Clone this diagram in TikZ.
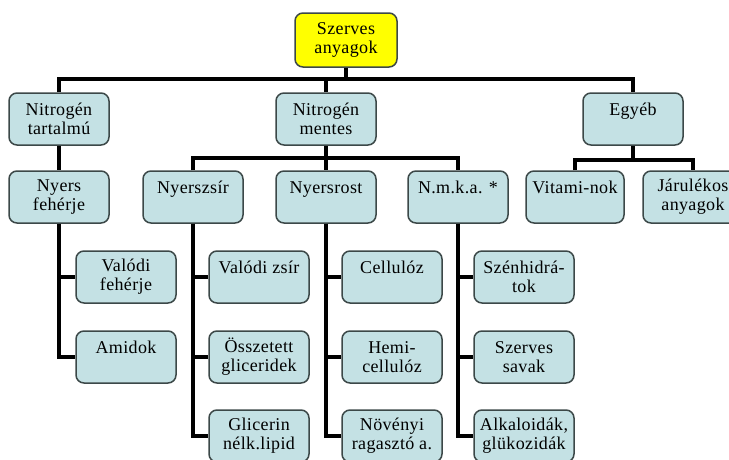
\documentclass[tikz,border=0pt]{standalone}
\usepackage{fontspec}
\setmainfont{Liberation Serif}[LetterSpace=2]
\usetikzlibrary{calc}
\definecolor{dobozkek}{RGB}{196,225,228}
\definecolor{keret}{RGB}{60,72,72}
\definecolor{sarga}{RGB}{255,255,0}
\newcommand{\egysor}[1]{#1\\\mbox{}}

\begin{document}
\begin{tikzpicture}[x=1pt, y=1pt,
    doboz/.style={draw=keret, line width=1.5pt, fill=dobozkek, rounded corners=8pt,
      minimum width=100pt, minimum height=52pt, align=center, inner sep=1pt,
      font=\fontsize{18}{19}\selectfont},
    gyoker/.style={doboz, fill=sarga, minimum width=102pt, minimum height=54pt},
    vonal/.style={line width=3.6pt, line join=miter}]
    \useasboundingbox (0,0) rectangle (729,-459);
    \clip (0,0) rectangle (729,-459);
    \node[gyoker] (sz) at (346,-40) {Szerves\\anyagok};
    % first level
    \node[doboz] (nt) at (59,-119) {Nitrogén\\tartalmú};
    \node[doboz] (nm) at (326,-119) {Nitrogén\\mentes};
    \node[doboz] (egy) at (633,-119) {\egysor{Egyéb}};
    % second level
    \node[doboz] (nyf) at (59,-197) {Nyers\\fehérje};
    \node[doboz] (nyzs) at (193,-197) {\egysor{Nyerszsír}};
    \node[doboz] (nyr) at (326,-197) {\egysor{Nyersrost}};
    \node[doboz] (nmka) at (458,-197) {\egysor{N.m.k.a. *}};
    \node[doboz, minimum width=98pt] (vit) at (575,-197) {\egysor{Vitami-nok}};
    \node[doboz] (jar) at (693,-197) {Járulékos\\anyagok};
    % third level
    \node[doboz] (vf) at (126,-277) {Valódi\\fehérje};
    \node[doboz] (am) at (126,-357) {\egysor{Amidok}};
    \node[doboz] (vzs) at (259,-277) {\egysor{Valódi zsír}};
    \node[doboz] (og) at (259,-357) {Összetett\\gliceridek};
    \node[doboz] (gl) at (259,-436) {Glicerin\\nélk.lipid};
    \node[doboz] (cel) at (392,-277) {\egysor{Cellulóz}};
    \node[doboz] (hem) at (392,-357) {Hemi-\\cellulóz};
    \node[doboz] (nov) at (392,-436) {Növényi\\ragasztó a.};
    \node[doboz] (szh) at (524,-277) {Szénhidrá-\\tok};
    \node[doboz] (szs) at (524,-357) {Szerves\\savak};
    \node[doboz] (alk) at (524,-436) {Alkaloidák,\\glükozidák};

    \begin{scope}[vonal]
    \draw (sz.south) -- ++(0,-11) coordinate (fo);
    \draw (nt.north) |- (fo) -| (egy.north);
    \draw (nm.north) -- (nm.north |- fo);
    \draw (nt.south) -- (nyf.north);
    \draw (nm.south) -- (nyr.north);
    \draw (nyzs.north) |- ($(nm.south)!.5!(nyr.north)$) -| (nmka.north);
    \draw (egy.south) -- ++(0,-14) coordinate (egyag);
    \draw (vit.north) |- (egyag) -| (jar.north);
    \draw (nyf.south) |- (vf.west);
    \draw (nyf.south) |- (am.west);
    \draw (nyzs.south) |- (vzs.west);
    \draw (nyzs.south) |- (og.west);
    \draw (nyzs.south) |- (gl.west);
    \draw (nyr.south) |- (cel.west);
    \draw (nyr.south) |- (hem.west);
    \draw (nyr.south) |- (nov.west);
    \draw (nmka.south) |- (szh.west);
    \draw (nmka.south) |- (szs.west);
    \draw (nmka.south) |- (alk.west);
    \end{scope}
\end{tikzpicture}
\end{document}
